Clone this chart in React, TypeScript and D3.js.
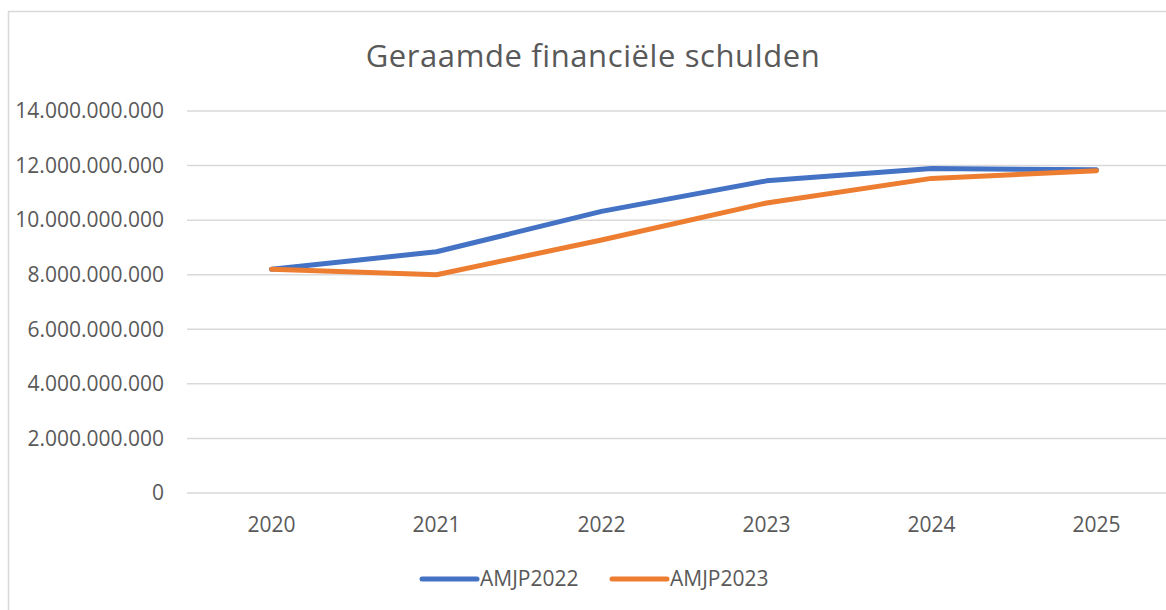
import React from "react";
import * as d3 from "d3";

const title = "Geraamde financiële schulden";
const categories = ["2020", "2021", "2022", "2023", "2024", "2025"];
const seriesNames = ["AMJP2022", "AMJP2023"];
const amjp2022 = [8.2e9, 8.84e9, 10.32e9, 11.44e9, 11.89e9, 11.85e9];
const amjp2023 = [8.2e9, 8.0e9, 9.27e9, 10.63e9, 11.53e9, 11.81e9];
const yTicks = [0, 2e9, 4e9, 6e9, 8e9, 10e9, 12e9, 14e9];
const colors = ["#4472C4", "#ED7D31"];

const W = 1166;
const H = 610;
const FONT = "'Open Sans', sans-serif";
const TEXT = "#595959";
const GRID = "#d9d9d9";

const fmt = d3.formatLocale({ decimal: ",", thousands: ".", grouping: [3], currency: ["€", ""] }).format(",");

export default function App() {
  const x = d3.scaleBand<string>().domain(categories).range([189, 1179]);
  const y = d3.scaleLinear().domain([0, 14e9]).range([493, 111]);
  const cx = (c: string) => (x(c) as number) + x.bandwidth() / 2;
  const line = d3
    .line<number>()
    .x((_, i) => cx(categories[i]))
    .y((d) => y(d));
  const series = [amjp2022, amjp2023];

  const legendItems = [
    { x0: 422, x1: 477, tx: 480 },
    { x0: 612, x1: 667, tx: 670 },
  ];

  return (
    <div style={{ position: "absolute", left: 0, top: 0 }}>
      <svg width={W} height={H} style={{ display: "block", background: "#fff" }}>
        <rect x={8.5} y={11.5} width={1180} height={620} fill="#fff" stroke={GRID} strokeWidth={1.5} />
        <text x={593} y={67} textAnchor="middle" fontFamily={FONT} fontSize={31} letterSpacing={0.6} fill={TEXT}>
          {title}
        </text>
        {yTicks.map((t) => (
          <g key={t}>
            <line x1={187} x2={1179} y1={y(t)} y2={y(t)} stroke={GRID} strokeWidth={1.5} />
            <text x={164} y={y(t)} dy="0.35em" textAnchor="end" fontFamily={FONT} fontSize={21} fill={TEXT}>
              {fmt(t)}
            </text>
          </g>
        ))}
        {categories.map((c) => (
          <text key={c} x={cx(c)} y={532} textAnchor="middle" fontFamily={FONT} fontSize={21} fill={TEXT}>
            {c}
          </text>
        ))}
        {series.map((s, i) => (
          <path
            key={seriesNames[i]}
            d={line(s) as string}
            fill="none"
            stroke={colors[i]}
            strokeWidth={5}
            strokeLinecap="round"
            strokeLinejoin="round"
          />
        ))}
        {seriesNames.map((n, i) => (
          <g key={n}>
            <line
              x1={legendItems[i].x0}
              x2={legendItems[i].x1}
              y1={579}
              y2={579}
              stroke={colors[i]}
              strokeWidth={5}
              strokeLinecap="round"
            />
            <text x={legendItems[i].tx} y={579} dy="0.35em" fontFamily={FONT} fontSize={21} fill={TEXT}>
              {n}
            </text>
          </g>
        ))}
      </svg>
    </div>
  );
}
